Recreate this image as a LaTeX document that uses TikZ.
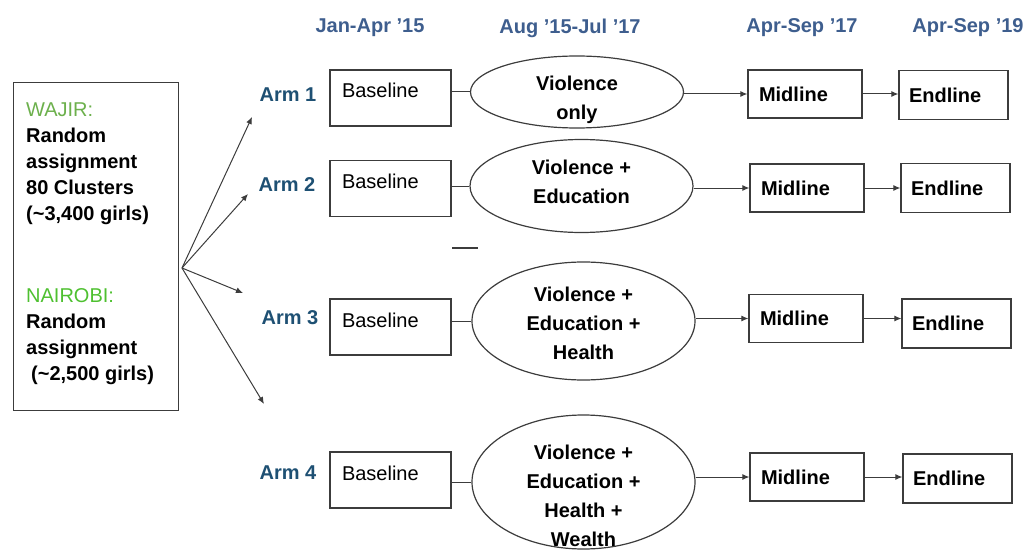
\documentclass[tikz,border=0pt]{standalone}
\usepackage{fontspec}
\setmainfont{Liberation Sans}
\usetikzlibrary{shapes.geometric, positioning, arrows.meta}

\definecolor{wajirgreen}{RGB}{108,176,76}
\definecolor{nairobigreen}{RGB}{78,192,48}
\definecolor{armblue}{RGB}{30,80,115}
\definecolor{dateblue}{RGB}{62,94,142}
\definecolor{linegray}{RGB}{60,60,60}

\tikzset{
  txt/.style={font=\fontsize{20}{26}\selectfont},
  datelabel/.style={txt, font=\fontsize{20}{26}\selectfont\bfseries, text=dateblue},
  armlabel/.style={txt, font=\fontsize{20}{26}\selectfont\bfseries, text=armblue},
  basebox/.style={draw=linegray, line width=1.2pt, rectangle, txt, align=left,
    inner xsep=12pt, inner ysep=8pt, text width=97pt, text height=20pt, text depth=20pt},
  midbox/.style={draw=linegray, line width=1.2pt, rectangle, txt, font=\fontsize{20}{26}\selectfont\bfseries,
    align=left, inner xsep=11pt, minimum height=48pt, text width=92pt},
  endbox/.style={draw=linegray, line width=1.2pt, rectangle, txt, font=\fontsize{20}{26}\selectfont\bfseries,
    align=left, inner xsep=10pt, minimum height=49pt, text width=89pt},
  armellipse/.style={draw=linegray, line width=1.2pt, ellipse, inner sep=0pt},
  elltext/.style={font=\fontsize{20}{29}\selectfont\bfseries, align=center, inner sep=0pt},
  grouptext/.style={font=\fontsize{20}{26}\selectfont\bfseries, align=left, inner sep=0pt, anchor=north west}
}

\begin{document}
\begin{tikzpicture}[x=1pt, y=-1pt, >={Latex[length=7pt,width=6pt]}]

\useasboundingbox (0,0) rectangle (1029,551);

% period headers
\node[datelabel] (d1) at (370,28) {Jan-Apr '15};
\node[datelabel] (d2) at (570,28) {Aug '15-Jul '17};
\node[datelabel] (d3) at (802,28) {Apr-Sep '17};
\node[datelabel] (d4) at (968,28) {Apr-Sep '19};

%% sample box
\node[draw=linegray, line width=1.2pt, rectangle, minimum width=165pt, minimum height=328pt,
      anchor=north west] (sample) at (13,82) {};
\node[grouptext] (wajir) at (26,103)
  {\textcolor{wajirgreen}{\mdseries WAJIR:}\\Random\\assignment\\80 Clusters\\(\textasciitilde3,400 girls)};
\node[grouptext] (nairobi) at (26,288)
  {\textcolor{nairobigreen}{\mdseries NAIROBI:}\\Random\\assignment\\\hspace{5pt}(\textasciitilde2,500 girls)};

%% randomisation fan
\coordinate (fan) at (182,268);
\coordinate (tip1) at (252,117);
\coordinate (tip2) at (248,194);
\coordinate (tip3) at (243,293);
\coordinate (tip4) at (264,404);
\foreach \i in {1,...,4}
    \draw[linegray, line width=1pt, ->] (fan) -- (tip\i);

% arm 1
\node[armlabel] (arm1) at (288,95) {Arm 1};
\node[basebox] (base1) at (390.5,98) {Baseline};
\node[armellipse, minimum width=213pt, minimum height=72pt] (int1) at (577,92) {};
\node[elltext] (lab1) at (577,100) {Violence\\only};
\node[midbox] (mid1) at (805,94) {Midline};
\node[endbox] (end1) at (953.5,95) {Endline};

% arm 2
\node[armlabel] (arm2) at (287,185) {Arm 2};
\node[basebox] (base2) at (390.5,188.5) {Baseline};
\node[armellipse, minimum width=223pt, minimum height=93pt] (int2) at (581.5,186) {};
\node[elltext] (lab2) at (581.5,182) {Violence +\\Education};
\node[midbox] (mid2) at (807,188) {Midline};
\node[endbox] (end2) at (955.5,188) {Endline};

% arm 3
\node[armlabel] (arm3) at (290,318) {Arm 3};
\node[basebox] (base3) at (390.5,327) {Baseline};
\node[armellipse, minimum width=223pt, minimum height=118pt] (int3) at (583.5,321) {};
\node[elltext] (lab3) at (583.5,323) {Violence +\\Education +\\Health};
\node[midbox] (mid3) at (806,318.5) {Midline};
\node[endbox] (end3) at (956.5,323.5) {Endline};

% arm 4
\node[armlabel] (arm4) at (288,473) {Arm 4};
\node[basebox] (base4) at (390.5,480) {Baseline};
\node[armellipse, minimum width=223pt, minimum height=134pt] (int4) at (583.5,482) {};
\node[elltext] (lab4) at (583.5,496) {Violence +\\Education +\\Health +\\Wealth};
\node[midbox] (mid4) at (807,477) {Midline};
\node[endbox] (end4) at (957.5,478.5) {Endline};

%% connectors along each arm
\foreach \i in {1,...,4}{
    \draw[linegray, line width=1pt] (base\i.east |- int\i.west) -- (int\i.west);
    \draw[linegray, line width=1pt, ->] (int\i.east |- mid\i.west) -- (mid\i.west);
    \draw[linegray, line width=1pt, ->] (mid\i.east) -- (mid\i.east -| end\i.west);
}

% stray dash
\draw[linegray, line width=1.2pt] (452,248) -- (478,248);

\end{tikzpicture}
\end{document}
